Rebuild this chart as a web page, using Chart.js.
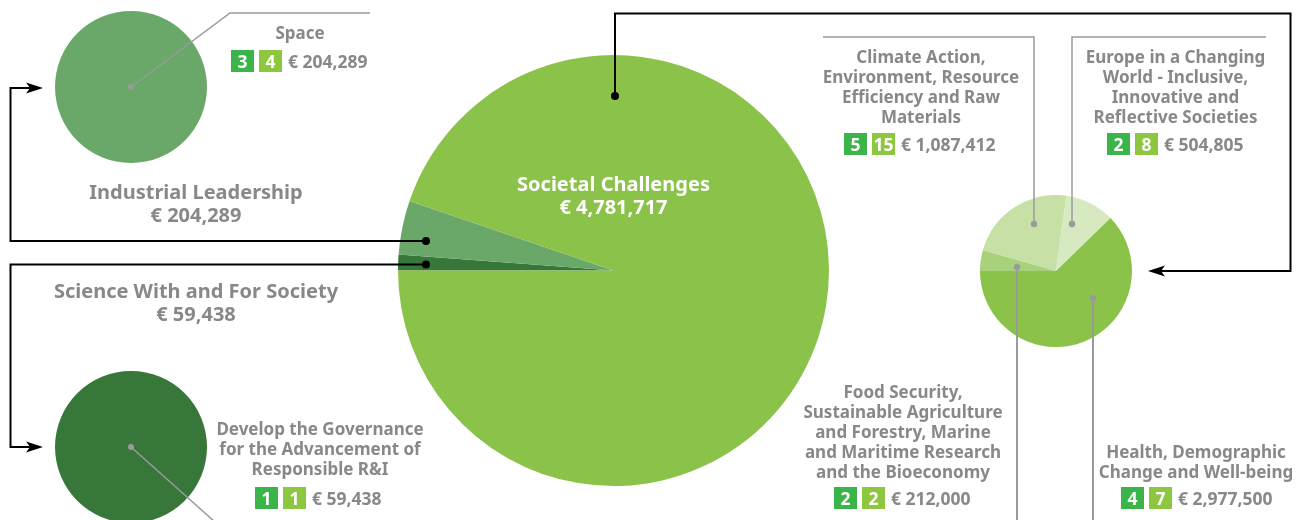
<!DOCTYPE html>
<html>
<head>
<meta charset="utf-8">
<script src="https://cdn.jsdelivr.net/npm/chart.js@4.4.1/dist/chart.umd.min.js"></script>
<style>
  html, body { margin:0; padding:0; background:#fff; overflow:hidden; }
  #wrap { position:relative; width:1308px; height:520px; overflow:hidden; font-family:"Noto Sans", "Open Sans", sans-serif; font-weight:700; }
  canvas { position:absolute; }
  .lbl { position:absolute; text-align:center; color:#88888b; white-space:nowrap; }
  .row { position:absolute; display:flex; align-items:center; height:22px; font-size:17.5px; color:#88888b; white-space:nowrap; }
  .b { display:inline-block; width:23px; height:22px; line-height:22px; text-align:center; color:#fff; font-size:17.5px; }
  .b1 { background:#3bb54a; margin-right:5px; }
  .b2 { background:#8dc63f; margin-right:6px; }
  #overlay { position:absolute; left:0; top:0; pointer-events:none; }
</style>
</head>
<body>
<div id="wrap">
  <canvas id="main" width="1308" height="520" style="left:0;top:0"></canvas>
  <canvas id="space" width="152" height="152" style="left:55px;top:11px"></canvas>
  <canvas id="gov" width="152" height="152" style="left:55px;top:371px"></canvas>
  <canvas id="soc" width="152" height="152" style="left:980px;top:195px"></canvas>
  <svg id="overlay" width="1308" height="520"></svg>
</div>
<script>
// ---- Data ----
const mainCategories = ["Science With and For Society", "Industrial Leadership", "Societal Challenges"];
const mainValues = [59438, 204289, 4781717];
const mainColors = ["#37773a", "#6aa86a", "#8bc34a"];

const spaceCategories = ["Space"];
const spaceValues = [204289];
const spaceProjects = [3];
const spaceParticipants = [4];

const govCategories = ["Develop the Governance for the Advancement of Responsible R&I"];
const govValues = [59438];
const govProjects = [1];
const govParticipants = [1];

const socCategories = [
  "Food Security, Sustainable Agriculture and Forestry, Marine and Maritime Research and the Bioeconomy",
  "Climate Action, Environment, Resource Efficiency and Raw Materials",
  "Europe in a Changing World - Inclusive, Innovative and Reflective Societies",
  "Health, Demographic Change and Well-being"
];
const socValues = [212000, 1087412, 504805, 2977500];
const socProjects = [2, 5, 2, 4];
const socParticipants = [2, 15, 8, 7];
const socColors = ["#a8d17b", "#c6e0a6", "#d6e9c1", "#8bc34a"];

const fmt = v => "€ " + v.toLocaleString("en-US");

// ---- Charts ----
function pie(id, labels, values, colors, padding) {
  return new Chart(document.getElementById(id), {
    type: "pie",
    data: { labels: labels, datasets: [{ data: values, backgroundColor: colors, borderWidth: 0 }] },
    options: {
      responsive: false, animation: false, devicePixelRatio: 1,
      rotation: -90,
      layout: { padding: padding || 0 },
      plugins: { legend: { display: false }, tooltip: { enabled: false } }
    }
  });
}
pie("main", mainCategories, mainValues, mainColors, { left: 398, right: 479, top: 55, bottom: 34 });
pie("space", spaceCategories, spaceValues, ["#6aa86a"]);
pie("gov", govCategories, govValues, ["#37773a"]);
pie("soc", socCategories, socValues, socColors);

// ---- Text ----
const wrap = document.getElementById("wrap");
function label(cx, baseline, lines, size, lh, color) {
  const d = document.createElement("div");
  d.className = "lbl";
  d.style.left = (cx - 250) + "px";
  d.style.width = "500px";
  d.style.fontSize = size + "px";
  d.style.lineHeight = lh + "px";
  d.style.top = (baseline - (lh / 2 + 0.388 * size)) + "px";
  if (color) d.style.color = color;
  d.innerHTML = lines.map(l => l.replace(/&/g, "&amp;")).join("<br>");
  wrap.appendChild(d);
}
function badges(x, top, p, q, value) {
  const r = document.createElement("div");
  r.className = "row";
  r.style.left = x + "px";
  r.style.top = top + "px";
  r.innerHTML = '<span class="b b1">' + p + '</span><span class="b b2">' + q + '</span><span>' + fmt(value) + '</span>';
  wrap.appendChild(r);
}

label(196, 199, [mainCategories[1], fmt(mainValues[1])], 20, 23);
label(196, 298, [mainCategories[0], fmt(mainValues[0])], 20, 23);
label(613.5, 191, [mainCategories[2], fmt(mainValues[2])], 20, 23, "#ffffff");

label(300, 39.5, ["Space"], 17, 20);
badges(231, 50, spaceProjects[0], spaceParticipants[0], spaceValues[0]);

label(320, 435.5, ["Develop the Governance", "for the Advancement of", "Responsible R&I"], 17, 20);
badges(255, 487, govProjects[0], govParticipants[0], govValues[0]);

label(921, 63.5, ["Climate Action,", "Environment, Resource", "Efficiency and Raw", "Materials"], 17, 20);
badges(844, 133, socProjects[1], socParticipants[1], socValues[1]);

label(1175.5, 63.5, ["Europe in a Changing", "World - Inclusive,", "Innovative and", "Reflective Societies"], 17, 20);
badges(1107, 133, socProjects[2], socParticipants[2], socValues[2]);

label(903, 399, ["Food Security,", "Sustainable Agriculture", "and Forestry, Marine", "and Maritime Research", "and the Bioeconomy"], 17, 20);
badges(834, 487, socProjects[0], socParticipants[0], socValues[0]);

label(1196, 459, ["Health, Demographic", "Change and Well-being"], 17, 20);
badges(1121, 487, socProjects[3], socParticipants[3], socValues[3]);

// ---- Connectors ----
const svg = document.getElementById("overlay");
const NS = "http://www.w3.org/2000/svg";
function path(d, stroke, w) {
  const p = document.createElementNS(NS, "path");
  p.setAttribute("d", d); p.setAttribute("fill", "none");
  p.setAttribute("stroke", stroke); p.setAttribute("stroke-width", w);
  svg.appendChild(p);
}
function dot(x, y, r, fill) {
  const c = document.createElementNS(NS, "circle");
  c.setAttribute("cx", x); c.setAttribute("cy", y); c.setAttribute("r", r); c.setAttribute("fill", fill);
  svg.appendChild(c);
}
function arrow(x, y, dir) {
  const p = document.createElementNS(NS, "path");
  const L = 17, H = 5.5;
  const bx = x - dir * L;
  p.setAttribute("d", `M${x},${y} L${bx},${y - H} L${bx + dir * 4},${y} L${bx},${y + H} Z`);
  p.setAttribute("fill", "#000");
  svg.appendChild(p);
}
const K = "#000", G = "#9a9a9c";
path("M426,241 H10.5 V88 H30", K, 2); arrow(43, 88, 1); dot(426, 241, 4, K);
path("M426,264.5 H10.5 V447 H30", K, 2); arrow(43, 447, 1); dot(426, 264.5, 4, K);
path("M615,96 V13.5 H1290.5 V271 H1160", K, 2); arrow(1148, 271, -1); dot(615, 96, 4, K);
path("M131,87 L230,13 H370", G, 1.5); dot(131, 87, 3, G);
path("M131,447 L215,522", G, 1.5); dot(131, 447, 3, G);
path("M1034,224 V37 H823", G, 1.5); dot(1034, 224, 3.2, G);
path("M1072,224 V37 H1266", G, 1.5); dot(1072, 224, 3.2, G);
path("M1017,267 V522", G, 2); dot(1017, 267, 3.2, G);
path("M1093,298 V522", G, 2); dot(1093, 298, 3.2, G);
</script>
</body>
</html>
